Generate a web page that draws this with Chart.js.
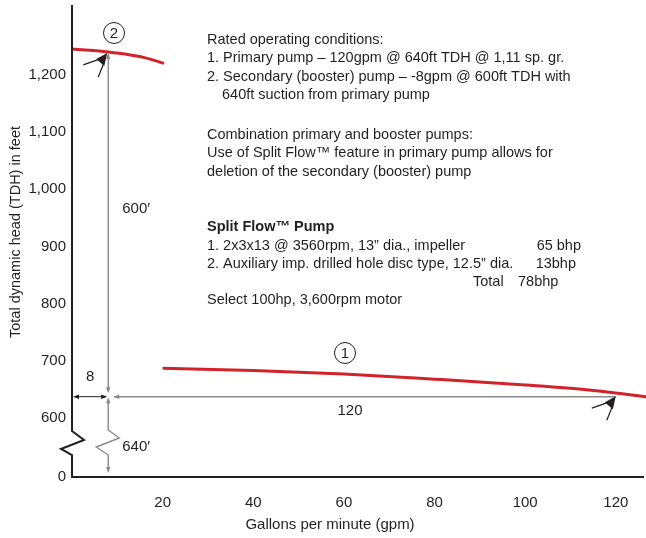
<!DOCTYPE html>
<html lang="en">
<head>
<meta charset="UTF-8" />
<title>Split Flow pump curves</title>
<script src="https://cdn.jsdelivr.net/npm/chart.js"></script>
<style>
  html, body { margin: 0; padding: 0; background: #fff; }
  #wrap { width: 646px; height: 538px; }
</style>
</head>
<body>
<div id="wrap"><canvas id="pumpChart"></canvas></div>
<script>
// tick labels
const xTicks = [20, 40, 60, 80, 100, 120];
const yTicks = [600, 700, 800, 900, 1000, 1100, 1200];
const yBreakValue = 497;   // bottom of the broken axis, labelled "0"

// curve 1 - primary pump
const primaryFlow = [20, 40, 60, 80, 100, 113, 120, 126.7];
const primaryHead = [687, 683, 677, 668, 658, 650, 644, 637];

// curve 2 - booster pump (on top of primary suction)
const boosterFlow = [0, 4, 8, 12, 16, 20.3];
const boosterHead = [1245, 1243, 1240, 1236, 1230, 1220];

// rated points
const primaryRatedFlow = 120, primaryRatedHead = 640;
const boosterRatedFlow = 8, boosterRatedHead = 600;

const ink = '#231f20';
const red = '#d2232a';
const grey = '#8a8a8a';
const fontFam = '"Liberation Sans", Arial, sans-serif';

const notes = [
  { t: 'Rated operating conditions:', x: 207, y: 40 },
  { t: '1. Primary pump \u2013 120gpm @ 640ft TDH @ 1,11 sp. gr.', x: 207, y: 58 },
  { t: '2. Secondary (booster) pump \u2013 -8gpm @ 600ft TDH with', x: 207, y: 77 },
  { t: '640ft suction from primary pump', x: 222, y: 95 },
  { t: 'Combination primary and booster pumps:', x: 207, y: 135 },
  { t: 'Use of Split Flow\u2122 feature in primary pump allows for', x: 207, y: 153 },
  { t: 'deletion of the secondary (booster) pump', x: 207, y: 172 },
  { t: 'Split Flow\u2122 Pump', x: 207, y: 227, bold: true },
  { t: '1. 2x3x13 @ 3560rpm, 13\u201d dia., impeller', x: 207, y: 246 },
  { t: '65 bhp', x: 581, y: 246, right: true },
  { t: '2. Auxiliary imp. drilled hole disc type, 12.5\u201d dia.', x: 207, y: 264 },
  { t: '13bhp', x: 576, y: 264, right: true },
  { t: 'Total', x: 473, y: 282 },
  { t: '78bhp', x: 518, y: 282 },
  { t: 'Select 100hp, 3,600rpm motor', x: 207, y: 300 }
];

function toPoints(xs, ys) {
  return xs.map((v, i) => ({ x: v, y: ys[i] }));
}

function arrowHead(ctx, x, y, dir, len, half) {
  // dir: 'up' | 'down' | 'left' | 'right'
  ctx.beginPath();
  ctx.moveTo(x, y);
  if (dir === 'up') { ctx.lineTo(x - half, y + len); ctx.lineTo(x + half, y + len); }
  if (dir === 'down') { ctx.lineTo(x - half, y - len); ctx.lineTo(x + half, y - len); }
  if (dir === 'left') { ctx.lineTo(x + len, y - half); ctx.lineTo(x + len, y + half); }
  if (dir === 'right') { ctx.lineTo(x - len, y - half); ctx.lineTo(x - len, y + half); }
  ctx.closePath();
  ctx.fill();
}

function callout(ctx, tx, ty) {
  ctx.save();
  ctx.strokeStyle = ink;
  ctx.fillStyle = ink;
  ctx.lineWidth = 1.2;
  ctx.beginPath();
  ctx.moveTo(tx - 24, ty + 12); ctx.lineTo(tx - 7, ty + 6);
  ctx.moveTo(tx - 9, ty + 24); ctx.lineTo(tx - 3, ty + 9);
  ctx.stroke();
  ctx.beginPath();
  ctx.moveTo(tx, ty);
  ctx.lineTo(tx - 11, ty + 6);
  ctx.lineTo(tx - 3, ty + 13);
  ctx.closePath();
  ctx.fill();
  ctx.restore();
}

function circled(ctx, label, cx, cy) {
  ctx.save();
  ctx.strokeStyle = ink;
  ctx.lineWidth = 1;
  ctx.beginPath();
  ctx.arc(cx, cy, 10.5, 0, Math.PI * 2);
  ctx.stroke();
  ctx.fillStyle = ink;
  ctx.font = '15px ' + fontFam;
  ctx.textAlign = 'center';
  ctx.textBaseline = 'middle';
  ctx.fillText(label, cx, cy + 1);
  ctx.restore();
}

const annotations = {
  id: 'annotations',
  afterDraw(chart) {
    const { ctx, chartArea } = chart;
    const sx = chart.scales.x, sy = chart.scales.y;
    const left = chartArea.left, bottom = chartArea.bottom;

    // broken y axis
    ctx.save();
    ctx.strokeStyle = ink;
    ctx.lineWidth = 2;
    ctx.beginPath();
    ctx.moveTo(left, chartArea.top);
    ctx.lineTo(left, bottom - 46);
    ctx.lineTo(left + 12, bottom - 37);
    ctx.lineTo(left - 11, bottom - 28);
    ctx.lineTo(left, bottom - 22);
    ctx.lineTo(left, bottom + 1);
    ctx.stroke();
    ctx.restore();

    const xb = sx.getPixelForValue(boosterRatedFlow);
    const xp = sx.getPixelForValue(primaryRatedFlow);
    const y640 = sy.getPixelForValue(primaryRatedHead);
    const yTop = sy.getPixelForValue(primaryRatedHead + boosterRatedHead);

    ctx.save();
    // 600' dimension
    ctx.strokeStyle = grey;
    ctx.fillStyle = grey;
    ctx.lineWidth = 1.4;
    ctx.beginPath();
    ctx.moveTo(xb, yTop + 2); ctx.lineTo(xb, y640 - 4);
    ctx.stroke();
    arrowHead(ctx, xb, yTop + 1, 'up', 6, 2.2);
    arrowHead(ctx, xb, y640 - 2, 'down', 6, 2.2);

    // 640' dimension with break
    ctx.beginPath();
    ctx.moveTo(xb, y640 + 4);
    ctx.lineTo(xb, bottom - 47);
    ctx.lineTo(xb + 11, bottom - 39);
    ctx.lineTo(xb - 12, bottom - 30);
    ctx.lineTo(xb, bottom - 22);
    ctx.lineTo(xb, bottom - 6);
    ctx.stroke();
    arrowHead(ctx, xb, y640 + 2, 'up', 6, 2.2);
    arrowHead(ctx, xb, bottom - 4, 'down', 6, 2.2);

    // 120 gpm dimension
    ctx.beginPath();
    ctx.moveTo(xb + 6, y640 + 1.5); ctx.lineTo(xp, y640 + 1.5);
    ctx.stroke();
    arrowHead(ctx, xb + 5, y640 + 1.5, 'left', 6, 2.2);

    // 8 gpm dimension
    ctx.strokeStyle = ink;
    ctx.fillStyle = ink;
    ctx.lineWidth = 1;
    ctx.beginPath();
    ctx.moveTo(left + 3, y640 + 1.5); ctx.lineTo(xb - 3, y640 + 1.5);
    ctx.stroke();
    arrowHead(ctx, left + 1, y640 + 1.5, 'left', 6, 2.2);
    arrowHead(ctx, xb - 1, y640 + 1.5, 'right', 6, 2.2);
    ctx.restore();

    // callout arrows at the rated points
    callout(ctx, xb - 1, yTop + 1);
    callout(ctx, xp, y640 + 1);

    circled(ctx, '2', 114, 33);
    circled(ctx, '1', 345, 353);

    // dimension labels
    ctx.save();
    ctx.fillStyle = ink;
    ctx.font = '15px ' + fontFam;
    ctx.textBaseline = 'middle';
    ctx.textAlign = 'center';
    ctx.fillText('8', (left + xb) / 2, y640 - 18);
    ctx.fillText('120', 350, y640 + 16);
    ctx.textAlign = 'left';
    ctx.fillText('600\u2032', xb + 14, 209);
    ctx.fillText('640\u2032', xb + 14, bottom - 30);

    // axis titles
    ctx.textAlign = 'center';
    ctx.fillText('Gallons per minute (gpm)', 330, 525);
    ctx.font = '14.5px ' + fontFam;
    ctx.translate(16, 232);
    ctx.rotate(-Math.PI / 2);
    ctx.fillText('Total dynamic head (TDH) in feet', 0, 0);
    ctx.restore();

    // notes
    ctx.save();
    ctx.fillStyle = ink;
    ctx.textBaseline = 'middle';
    notes.forEach(n => {
      ctx.font = (n.bold ? 'bold ' : '') + '14.5px ' + fontFam;
      ctx.textAlign = n.right ? 'right' : 'left';
      ctx.fillText(n.t, n.x, n.y);
    });
    ctx.restore();
  }
};

new Chart(document.getElementById('pumpChart'), {
  type: 'line',
  data: {
    datasets: [
      {
        label: 'Primary pump',
        data: toPoints(primaryFlow, primaryHead),
        borderColor: red,
        borderWidth: 3,
        pointRadius: 0,
        cubicInterpolationMode: 'monotone',
        clip: false
      },
      {
        label: 'Booster pump',
        data: toPoints(boosterFlow, boosterHead),
        borderColor: red,
        borderWidth: 3,
        pointRadius: 0,
        cubicInterpolationMode: 'monotone',
        clip: false
      }
    ]
  },
  options: {
    responsive: true,
    maintainAspectRatio: false,
    animation: false,
    layout: { padding: { top: 5, right: 3, left: 0, bottom: 0 } },
    plugins: {
      legend: { display: false },
      tooltip: { enabled: false }
    },
    scales: {
      x: {
        type: 'linear',
        min: 0,
        max: 126,
        grid: { display: false, drawTicks: false },
        border: { display: true, color: ink, width: 2 },
        ticks: {
          color: ink,
          font: { family: fontFam, size: 15 },
          padding: 17,
          autoSkip: false,
          maxRotation: 0
        },
        afterBuildTicks: scale => { scale.ticks = xTicks.map(v => ({ value: v })); },
        afterFit: scale => {
          scale.height = 61;
          scale.paddingLeft = 0;
          scale.paddingRight = 0;
        }
      },
      y: {
        type: 'linear',
        min: yBreakValue,
        max: 1322,
        grid: { display: false, drawTicks: false },
        border: { display: false },
        ticks: {
          color: ink,
          font: { family: fontFam, size: 15 },
          padding: 6,
          autoSkip: false,
          callback: v => v === yBreakValue ? '0' : v.toLocaleString('en-US')
        },
        afterBuildTicks: scale => {
          scale.ticks = [yBreakValue].concat(yTicks).map(v => ({ value: v }));
        },
        afterFit: scale => {
          scale.width = 72;
          scale.paddingTop = 0;
          scale.paddingBottom = 0;
        }
      }
    }
  },
  plugins: [annotations]
});
</script>
</body>
</html>
